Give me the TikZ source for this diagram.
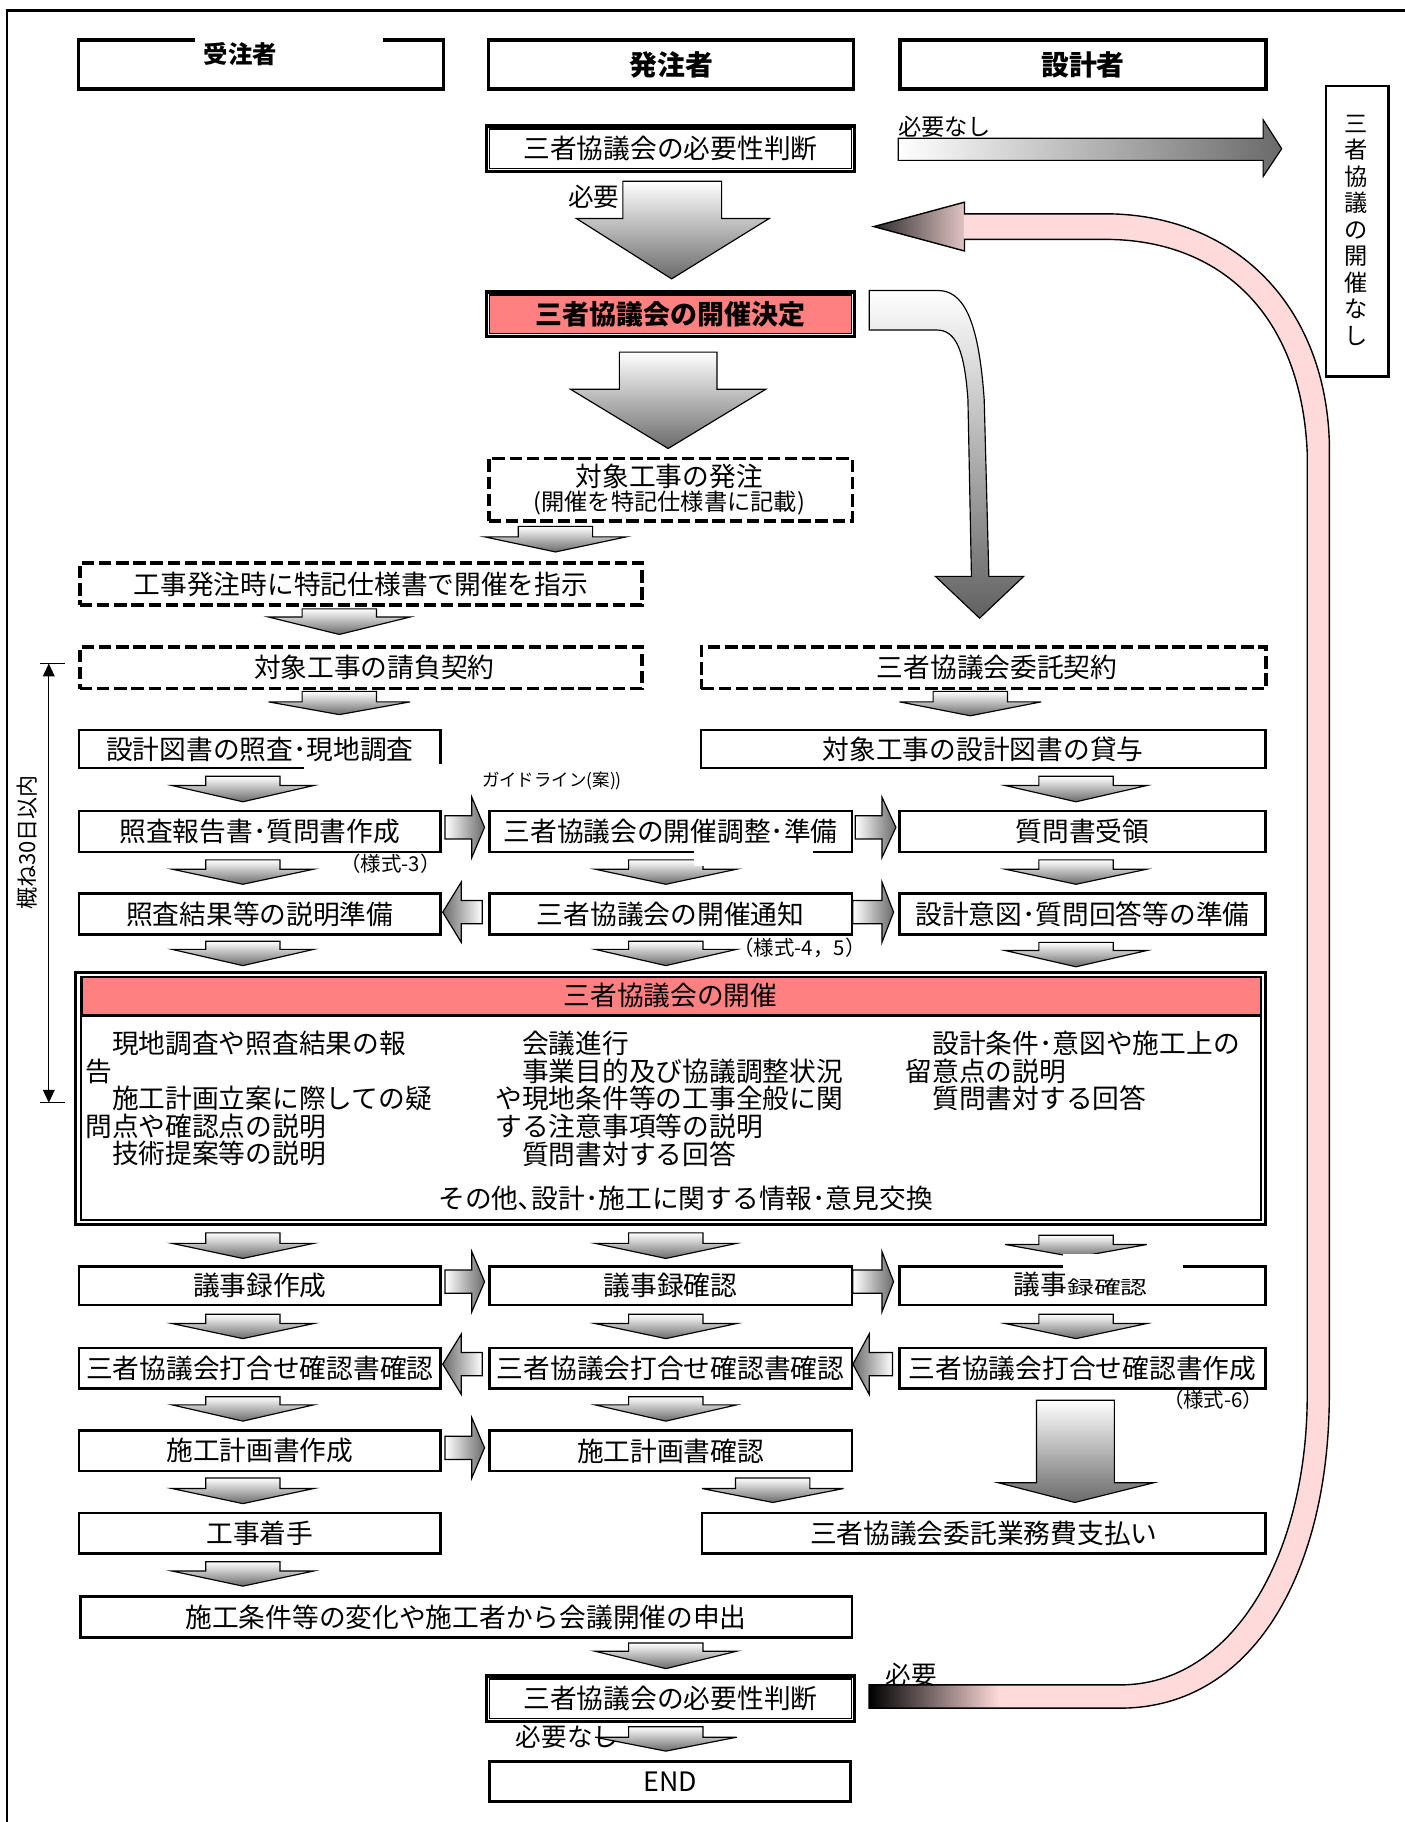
\documentclass[tikz,border=0pt]{standalone}
\usepackage{fontspec}
\setmainfont{Noto Sans CJK JP}
\usepackage{graphicx}
\usetikzlibrary{arrows.meta}
\definecolor{hdrpink}{HTML}{FF8080}
\definecolor{bandpink}{HTML}{FFDADA}
\definecolor{arrgray}{HTML}{6A6A6A}
\newcommand\fm{\fontsize{11.5}{13.8}\selectfont}
\newcommand\fsm{\fontsize{7.5}{9}\selectfont}
\newcommand\fsy{\fontsize{8.8}{10}\selectfont}
% box: style, name, x1, y1, x2, y2, text
\newcommand\bx[7]{\node[#1, anchor=north west, minimum width={(#5-#3)*0.5pt}, minimum height={(#6-#4)*0.5pt}] (#2) at (#3,#4) {#7};}
% flat down arrow: cx, top, base, tip
\newcommand\fa[4]{\path[arr] (#1-32,#2) -- (#1+32,#2) -- (#1+32,#3) -- (#1+61,#3) -- (#1,#4) -- (#1-61,#3) -- (#1-32,#3) -- cycle;}
% right arrow: x0, xb, xt, ymid
\newcommand\rarr[4]{\path[harr] (#1,#4-10) -- (#2,#4-10) -- (#2,#4-26) -- (#3,#4) -- (#2,#4+26) -- (#2,#4+10) -- (#1,#4+10) -- cycle;}
% left arrow: xt, xb, x1, ymid
\newcommand\larr[4]{\path[larrs] (#3,#4-10) -- (#2,#4-10) -- (#2,#4-26) -- (#1,#4) -- (#2,#4+26) -- (#2,#4+10) -- (#3,#4+10) -- cycle;}
\begin{document}
\begin{tikzpicture}[x=0.5pt,y=-0.5pt,
  box/.style={draw, line width=1.1pt, fill=white, inner sep=0pt, font=\fm},
  hdr/.style={draw, line width=1.5pt, fill=white, inner sep=0pt, font=\fontsize{12}{14}\selectfont\bfseries},
  dbox/.style={draw, line width=1.6pt, dash pattern=on 5.4pt off 2pt, inner sep=0pt, font=\fm},
  dbl/.style={draw, line width=1.5pt, fill=white, inner sep=0pt, font=\fm},
  arr/.style={draw=black, line width=0.5pt, top color=white, bottom color=arrgray},
  harr/.style={draw=black, line width=0.5pt, left color=white, right color=arrgray},
  larrs/.style={draw=black, line width=0.5pt, left color=arrgray, right color=white},
  txt/.style={inner sep=0pt, font=\fm},
  small/.style={inner sep=0pt, font=\fsm},
  form/.style={inner sep=0pt, font=\fsy},
]
\useasboundingbox (0,0) rectangle (1209,1568);
% outer frame
\draw[line width=1pt] (6,1590) -- (6,9) -- (1230,9);

% ---------- pink return band ----------
\path[fill=bandpink] (748,1450) -- (964,1450) .. controls (1060,1450) and (1125,1340) .. (1125,1200) -- (1125,390) .. controls (1120,270) and (1050,206) .. (951,206) -- (830,206) -- (830,216) -- (752,195) -- (830,174) -- (830,184) -- (951,184) .. controls (1060,184) and (1140,260) .. (1144,380) -- (1144,1200) .. controls (1144,1350) and (1080,1470) .. (964,1470) -- (748,1470) -- cycle;
\begin{scope}
\clip (830,174) -- (752,195) -- (830,216) -- cycle;
\shade[left color=black!85, right color=bandpink!80!gray] (750,170) rectangle (832,220);
\end{scope}
\shade[left color=black, right color=bandpink] (748,1450) rectangle (860,1470);
\draw[line width=0.6pt] (748,1450) -- (964,1450) .. controls (1060,1450) and (1125,1340) .. (1125,1200) -- (1125,390) .. controls (1120,270) and (1050,206) .. (951,206) -- (830,206) -- (830,216) -- (752,195) -- (830,174) -- (830,184) -- (951,184) .. controls (1060,184) and (1140,260) .. (1144,380) -- (1144,1200) .. controls (1144,1350) and (1080,1470) .. (964,1470) -- (748,1470) -- cycle;

% ---------- headers ----------
\bx{hdr}{h1}{66}{33}{380}{75}{}
\fill[white] (168,29) rectangle (330,58);
\node[inner sep=0pt, font=\fontsize{10.5}{12}\selectfont\bfseries] (h1t) at (207,47) {受注者};
\bx{hdr}{h2}{419}{33}{733}{75}{発注者}
\bx{hdr}{h3}{773}{33}{1088}{75}{設計者}

% vertical box
\bx{draw, line width=1.1pt, inner sep=0pt}{nb}{1140}{73}{1194}{323}{}
\node[inner sep=0pt, align=center, font=\fontsize{10}{11.4}\selectfont] (nbt) at (1167,198) {三\\者\\協\\議\\の\\開\\催\\な\\し};

% ---------- top decision ----------
\bx{dbl}{j1}{417}{107}{734}{146}{三者協議会の必要性判断}
\draw[line width=0.6pt] ([shift={(4,4)}]j1.north west) rectangle ([shift={(-4,-4)}]j1.south east);

% big arrow 1
\path[arr] (536,156) -- (621,156) -- (621,188) -- (662,188) -- (578,240) -- (496,188) -- (536,188) -- cycle;
\node[txt, font=\fontsize{11}{13}\selectfont] (need1) at (511,169) {必要};

% horizontal arrow (no need)
\path[harr] (773,119) -- (1087,119) -- (1087,103) -- (1103,128) -- (1087,152) -- (1087,138) -- (773,138) -- cycle;
\node[txt, font=\fontsize{10}{12}\selectfont] (noneed1) at (813,109) {必要なし};

% decision
\bx{dbl}{kd}{417}{250}{734}{288}{}
\draw[line width=0.6pt, fill=hdrpink] ([shift={(4,4)}]kd.north west) rectangle ([shift={(-4,-4)}]kd.south east);
\node[inner sep=0pt, font=\fontsize{11.6}{13}\selectfont\bfseries] (kdt) at (kd.center) {三者協議会の開催決定};

% curved arrow to consultant contract
\path[draw=black, line width=0.5pt, top color=white, bottom color=black!62] (748,250) -- (807,250) .. controls (828,250) and (842,272) .. (847,344) -- (851,496) -- (881,496) -- (843,532) -- (805,496) -- (836,496) -- (833,344) .. controls (830,302) and (823,284) .. (806,284) -- (748,284) -- cycle;

% big arrow 2
\path[arr] (533,303) -- (617,303) -- (617,335) -- (659,335) -- (575,386) -- (491,335) -- (533,335) -- cycle;

% ---------- dashed boxes ----------
\bx{dbox}{t1}{419}{393}{732}{447}{}
\node[txt] (t1a) at (576,410) {対象工事の発注};
\node[inner sep=0pt, font=\fontsize{10}{12}\selectfont] (t1b) at (576,433) {(開催を特記仕様書に記載)};
\fa{478}{453}{462}{475}
\bx{dbox}{t2}{67}{483}{551}{519}{工事発注時に特記仕様書で開催を指示}
\fa{292}{524}{531}{546}
\bx{dbox}{t3}{67}{555}{551}{591}{　対象工事の請負契約}
\bx{dbox}{t4}{602}{555}{1088}{591}{　三者協議会委託契約}
\fa{292}{595}{604}{615}
\fa{835}{595}{604}{616}

% ---------- rows ----------
\bx{box}{b1}{67}{627}{378}{660}{設計図書の照査･現地調査}
\fill[white] (262,657.5) rectangle (381,664);
\bx{box}{b2}{602}{627}{1088}{660}{対象工事の設計図書の貸与}
\fa{209}{668}{676}{690}
\fa{926}{668}{676}{690}
\node[small] (gl) at (475,672) {ガイドライン(案))};

\bx{box}{b3}{67}{697}{378}{732}{照査報告書･質問書作成}
\bx{box}{b4}{420}{697}{732}{732}{三者協議会の開催調整･準備}
\bx{box}{b5}{773}{697}{1088}{732}{質問書受領}
\rarr{383}{406}{417}{712}
\rarr{736}{759}{771}{712}
\node[form] (f3) at (336,743) {（様式-3）};
\fa{209}{740}{748}{761}
\fa{573}{740}{748}{761}
\fa{926}{740}{748}{761}
\fill[white] (597,729.5) rectangle (700,745);

\bx{box}{b6}{67}{768}{378}{803}{照査結果等の説明準備}
\bx{box}{b7}{420}{768}{732}{803}{三者協議会の開催通知}
\bx{box}{b8}{773}{768}{1088}{803}{設計意図･質問回答等の準備}
\larr{381}{397}{415}{785}
\rarr{734}{759}{769}{785}
\fa{209}{810}{817}{831}
\fa{573}{810}{817}{831}
\fa{926}{811}{818}{832}
\node[form] (f45) at (688,816) {（様式-4，5）};

% ---------- meeting box ----------
\draw[line width=1.5pt, fill=white] (65,837) rectangle (1089,1054);
\draw[line width=0.8pt] (70,841) rectangle (1085,1050);
\draw[line width=1pt, fill=hdrpink] (70,841) rectangle (1085,874);
\node[txt] (mt) at (577,857) {三者協議会の開催};
\node[txt, anchor=west] (m1) at (73,898) {　現地調査や照査結果の報};
\node[txt, anchor=west] (m2) at (73,922) {告};
\node[txt, anchor=west] (m3) at (73,945) {　施工計画立案に際しての疑};
\node[txt, anchor=west] (m4) at (73,969) {問点や確認点の説明};
\node[txt, anchor=west] (m5) at (73,993) {　技術提案等の説明};
\node[txt, anchor=west] (c1) at (426,898) {　会議進行};
\node[txt, anchor=west] (c2) at (426,922) {　事業目的及び協議調整状況};
\node[txt, anchor=west] (c3) at (426,945) {や現地条件等の工事全般に関};
\node[txt, anchor=west] (c4) at (426,969) {する注意事項等の説明};
\node[txt, anchor=west] (c5) at (426,993) {　質問書対する回答};
\node[txt, anchor=west] (r1) at (779,898) {　設計条件･意図や施工上の};
\node[txt, anchor=west] (r2) at (779,922) {留意点の説明};
\node[txt, anchor=west] (r3) at (779,945) {　質問書対する回答};
\node[txt] (mb) at (590,1031) {その他､設計･施工に関する情報･意見交換};

% ---------- after meeting ----------
\fa{209}{1061}{1070}{1083}
\fa{573}{1061}{1070}{1083}
\fa{926}{1063}{1071}{1082}
\bx{box}{b9}{67}{1089}{378}{1122}{議事録作成}
\bx{box}{b10}{420}{1089}{732}{1122}{議事録確認}
\bx{box}{b11}{773}{1089}{1088}{1122}{}
\fill[white] (915,1079) rectangle (1018,1098);
\node[txt] (b11t) at (930,1105) {議事\scalebox{1}[0.7]{録確認}};
\rarr{383}{406}{417}{1103}
\rarr{734}{759}{769}{1103}
\fa{209}{1131}{1139}{1152}
\fa{573}{1131}{1139}{1152}
\fa{926}{1131}{1139}{1152}

\bx{box}{b12}{67}{1159}{378}{1194}{三者協議会打合せ確認書確認}
\bx{box}{b13}{420}{1159}{732}{1194}{三者協議会打合せ確認書確認}
\bx{box}{b14}{773}{1159}{1088}{1194}{三者協議会打合せ確認書作成}
\larr{381}{397}{415}{1174}
\larr{734}{748}{768}{1174}
\node[form] (f6) at (1044,1205) {（様式-6）};
\fa{209}{1202}{1209}{1223}
\fa{573}{1202}{1209}{1223}
\path[arr] (892,1205) -- (959,1205) -- (959,1276) -- (993,1276) -- (925,1293) -- (859,1276) -- (892,1276) -- cycle;

\bx{box}{b15}{67}{1230}{378}{1265}{施工計画書作成}
\bx{box}{b16}{420}{1230}{732}{1265}{施工計画書確認}
\rarr{383}{406}{417}{1246}
\fa{209}{1272}{1281}{1294}
\fa{665}{1272}{1281}{1293}

\bx{box}{b17}{67}{1301}{378}{1336}{工事着手}
\bx{box}{b18}{603}{1301}{1088}{1336}{三者協議会委託業務費支払い}
\fa{209}{1344}{1352}{1365}

\bx{box}{b19}{68}{1373}{732}{1408}{施工条件等の変化や施工者から会議開催の申出}
\fa{573}{1414}{1421}{1436}

\bx{dbl}{j2}{417}{1441}{734}{1480}{三者協議会の必要性判断}
\draw[line width=0.6pt] ([shift={(4,4)}]j2.north west) rectangle ([shift={(-4,-4)}]j2.south east);
\node[txt, font=\fontsize{11}{13}\selectfont] (need2) at (784,1441) {必要};
\fa{573}{1486}{1495}{1507}
\node[txt, font=\fontsize{11}{13}\selectfont] (noneed2) at (488,1495) {必要なし};
\bx{box}{b20}{420}{1515}{731}{1549}{END}

% ---------- 30 days ----------
\coordinate (d1) at (42,571);
\coordinate (d2) at (42,949);
\draw[line width=0.5pt, {Triangle[length=5.5pt,width=5pt]}-{Triangle[length=5.5pt,width=5pt]}] (d1) -- (d2);
\draw[line width=0.6pt] (34,571) -- (56,571);
\draw[line width=0.6pt] (34,949) -- (56,949);
\node[inner sep=0pt, rotate=90, font=\fontsize{9.5}{11}\selectfont] (d30) at (23,725) {概ね30日以内};
\end{tikzpicture}
\end{document}
